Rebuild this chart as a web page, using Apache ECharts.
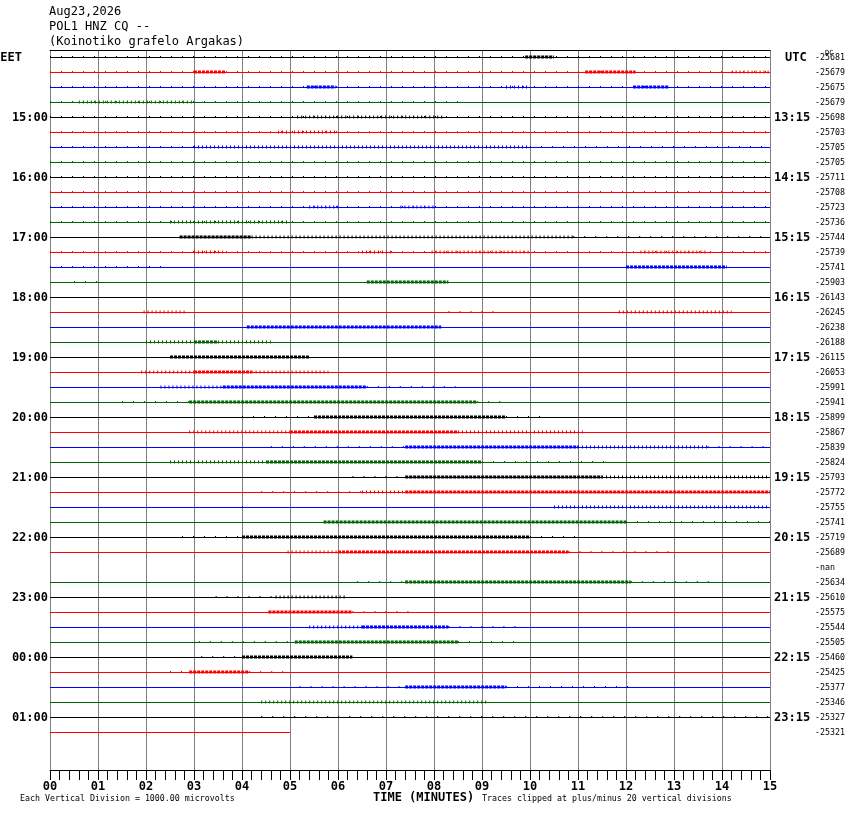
<!DOCTYPE html>
<html>
<head>
<meta charset="utf-8">
<script src="https://cdn.jsdelivr.net/npm/echarts@6/dist/echarts.min.js"></script>
<style>
html, body { margin: 0; padding: 0; background: #fff; }
#container { width: 850px; height: 814px; }
</style>
</head>
<body>
<div id="container"></div>
<script>
// tick labels
var minuteLabels = ['00','01','02','03','04','05','06','07','08','09','10','11','12','13','14','15'];
var hourLabelsEET = ['15:00','16:00','17:00','18:00','19:00','20:00','21:00','22:00','23:00','00:00','01:00'];
var hourLabelsUTC = ['13:15','14:15','15:15','16:15','17:15','18:15','19:15','20:15','21:15','22:15','23:15'];
// DC offset of every 15 minute line (null = -nan, no trace)
var dcOffsets = [-25681, -25679, -25675, -25679, -25698, -25703, -25705, -25705,
    -25711, -25708, -25723, -25736, -25744, -25739, -25741, -25903,
    -26143, -26245, -26238, -26188, -26115, -26053, -25991, -25941,
    -25899, -25867, -25839, -25824, -25793, -25772, -25755, -25741,
    -25719, -25689, null, -25634, -25610, -25575, -25544, -25505,
    -25460, -25425, -25377, -25346, -25327, -25321];
var traceEnd = [15, 15, 15, 15, 15, 15, 15, 15, 15, 15, 15, 15, 15, 15, 15, 15,
    15, 15, 15, 15, 15, 15, 15, 15, 15, 15, 15, 15, 15, 15, 15, 15,
    15, 15, 15, 15, 15, 15, 15, 15, 15, 15, 15, 15, 15, 5];
var traceColors = ['#000000', '#ff0000', '#0000ff', '#006400'];
// noisy stretches: [line, start min, end min, level 1 sparse .. 3 dense]
var bursts = [
    [0,0,15,1],[0,9.9,10.5,3],
    [1,0,15,1],[1,3.0,3.65,3],[1,11.15,12.2,3],[1,14.2,15,2],
    [2,0,15,1],[2,5.35,5.95,3],[2,9.5,10,2],[2,12.15,12.9,3],
    [3,0,8.5,1],[3,0.6,3.0,2],
    [4,0,15,1],[4,5.15,8.2,2],
    [5,0,15,1],[5,4.75,6.0,2],
    [6,0,3,1],[6,3,10,2],[6,10,15,1],
    [7,0,15,1],
    [8,0,15,1],
    [9,0,15,1],
    [10,0,15,1],[10,5.4,6.0,2],[10,7.3,8.0,2],
    [11,0,15,1],[11,2.5,5.0,2],
    [12,2.7,4.2,3],[12,4.2,10.9,2],[12,10.9,15,1],
    [13,0,15,1],[13,3,3.6,2],[13,6.5,7.1,2],[13,7.95,10,2],[13,12.3,13.7,2],
    [14,0,2.5,1],[14,12,14.1,3],
    [15,0.5,1.0,1],[15,6.6,8.3,3],
    [17,1.95,2.85,2],[17,8.3,9.35,1],[17,11.85,14.2,2],
    [18,4.1,8.15,3],
    [19,2.0,3.0,2],[19,3.0,3.5,3],[19,3.5,4.6,2],
    [20,2.5,5.4,3],
    [21,1.9,3.0,2],[21,3.0,4.2,3],[21,4.2,5.8,2],
    [22,2.3,3.6,2],[22,3.6,6.6,3],[22,6.6,8.45,1],
    [23,1.5,2.9,1],[23,2.9,8.9,3],[23,8.9,9.4,1],
    [24,4.0,5.5,1],[24,5.5,9.5,3],[24,9.5,10.3,1],
    [25,2.9,5.0,2],[25,5.0,8.5,3],[25,8.5,11.1,2],
    [26,4.6,7.4,1],[26,7.4,11.0,3],[26,11,13.7,2],[26,13.7,15,1],
    [27,2.5,4.5,2],[27,4.5,9.0,3],[27,9.0,11.6,1],
    [28,6.3,7.4,1],[28,7.4,11.5,3],[28,11.5,15,2],
    [29,4.4,6.5,1],[29,6.5,7.4,2],[29,7.4,15,3],
    [30,4.0,4.2,1],[30,10.5,15,2],
    [31,5.7,12.0,3],[31,12.0,15,1],
    [32,2.75,4.0,1],[32,4.0,10.0,3],[32,10,10.95,1],
    [33,4.95,6.0,2],[33,6.0,10.8,3],[33,10.8,12.9,1],
    [35,6.4,7.4,1],[35,7.4,12.1,3],[35,12.1,13.9,1],
    [36,3.45,4.7,1],[36,4.7,6.15,2],
    [37,4.55,6.3,3],[37,6.3,7.5,1],
    [38,5.4,6.5,2],[38,6.5,8.3,3],[38,8.3,9.7,1],
    [39,3.1,5.1,1],[39,5.1,8.5,3],[39,8.5,9.8,1],
    [40,3.15,4.0,1],[40,4.0,6.3,3],
    [41,2.5,2.9,1],[41,2.9,4.15,3],[41,4.15,5.0,1],
    [42,5.2,7.4,1],[42,7.4,9.5,3],[42,9.5,12.05,1],
    [43,4.4,9.1,2],
    [44,4.4,15,1]
];

var mono = 'DejaVu Sans Mono';
var rowNames = [];
for (var r = 0; r < 48; r++) {
    rowNames.push(r);
}

var series = [];
for (var i = 0; i < dcOffsets.length; i++) {
    if (dcOffsets[i] === null) continue;
    series.push({
        type: 'line',
        symbol: 'none',
        silent: true,
        animation: false,
        lineStyle: { color: traceColors[i % 4], width: 1 },
        data: [[0, i], [traceEnd[i], i]]
    });
}
var dashes = { 1: [1, 10], 2: [1, 3], 3: [3, 1] };
var widths = { 1: 2, 2: 3, 3: 3 };
series.push({
    type: 'custom',
    silent: true,
    animation: false,
    encode: { x: [1, 2], y: 0 },
    renderItem: function (params, api) {
        var t = api.value(0);
        var lv = api.value(3);
        var p1 = api.coord([api.value(1), t]);
        var p2 = api.coord([api.value(2), t]);
        return {
            type: 'line',
            shape: { x1: p1[0], y1: p1[1] - 0.5, x2: p2[0], y2: p2[1] - 0.5 },
            style: { stroke: traceColors[t % 4], lineWidth: widths[lv], lineDash: dashes[lv] }
        };
    },
    data: bursts
});

var dom = document.getElementById("container");
var myChart = echarts.init(dom);
var option = {
    backgroundColor: '#ffffff',
    animation: false,
    title: {
        text: 'Aug23,2026\nPOL1 HNZ CQ --\n(Koinotiko grafelo Argakas)',
        left: 49,
        top: 5,
        padding: 0,
        textStyle: { fontFamily: mono, fontSize: 12, fontWeight: 'normal', lineHeight: 14.7, color: '#000' }
    },
    grid: { left: 50, right: 80, top: 50, bottom: 44, containLabel: false, outerBoundsMode: 'none' },
    xAxis: [{
        type: 'value',
        min: 0,
        max: 15,
        interval: 1,
        axisLine: { show: true, lineStyle: { color: '#000', width: 1 } },
        axisTick: { show: true, inside: false, length: 10, lineStyle: { color: '#000' } },
        minorTick: { show: true, splitNumber: 5, length: 10, lineStyle: { color: '#000' } },
        splitLine: { show: true, lineStyle: { color: '#808080', width: 1 } },
        axisLabel: {
            margin: 11,
            fontFamily: mono, fontSize: 12, fontWeight: 'bold', color: '#000',
            formatter: function (v) { return minuteLabels[v]; }
        }
    }, {
        type: 'value',
        position: 'top',
        min: 0,
        max: 15,
        axisLine: { show: true, lineStyle: { color: '#000', width: 1 } },
        axisTick: { show: false },
        axisLabel: { show: false },
        splitLine: { show: false }
    }],
    yAxis: [{
        type: 'category',
        inverse: true,
        position: 'left',
        data: rowNames,
        axisLine: { show: false },
        axisTick: { show: false },
        splitLine: { show: false },
        axisLabel: {
            interval: 0,
            margin: 2,
            formatter: function (v, idx) {
                if (idx === 0) return '{e|EET}';
                if (idx % 4 === 0 && hourLabelsEET[idx / 4 - 1]) return '{h|' + hourLabelsEET[idx / 4 - 1] + '}';
                return '';
            },
            rich: {
                e: { fontFamily: mono, fontSize: 12, fontWeight: 'bold', color: '#000', padding: [0, 26, 0, 0] },
                h: { fontFamily: mono, fontSize: 12, fontWeight: 'bold', color: '#000' }
            }
        }
    }, {
        type: 'category',
        inverse: true,
        position: 'right',
        data: rowNames,
        axisLine: { show: false },
        axisTick: { show: false },
        splitLine: { show: false },
        axisLabel: {
            interval: 0,
            margin: 4,
            align: 'left',
            formatter: function (v, idx) {
                if (idx >= dcOffsets.length) return '';
                var num = dcOffsets[idx] === null ? '-nan' : String(dcOffsets[idx]);
                var hour = ' ';
                if (idx === 0) return '{u|UTC}{n|' + num + '}';
                if (idx % 4 === 0 && hourLabelsUTC[idx / 4 - 1]) hour = hourLabelsUTC[idx / 4 - 1];
                return '{h|' + hour + '}{n|' + num + '}';
            },
            rich: {
                u: { fontFamily: mono, fontSize: 12, fontWeight: 'bold', color: '#000', width: 30, padding: [0, 0, 0, 11] },
                h: { fontFamily: mono, fontSize: 12, fontWeight: 'bold', color: '#000', width: 41 },
                n: { fontFamily: mono, fontSize: 8.3, color: '#000' }
            }
        }
    }],
    graphic: [
        { type: 'text', left: 825, top: 50, style: { text: 'DC', font: '7px "DejaVu Sans Mono"', fill: '#000' } },
        { type: 'text', left: 373, top: 792, style: { text: 'TIME (MINUTES)', font: 'bold 12px "DejaVu Sans Mono"', fill: '#000' } },
        { type: 'text', left: 20, top: 795, style: { text: 'Each Vertical Division = 1000.00 microvolts', font: '8.3px "DejaVu Sans Mono"', fill: '#000' } },
        { type: 'text', left: 482, top: 795, style: { text: 'Traces clipped at plus/minus 20 vertical divisions', font: '8.3px "DejaVu Sans Mono"', fill: '#000' } }
    ],
    series: series
};
myChart.setOption(option, true);
</script>
</body>
</html>
